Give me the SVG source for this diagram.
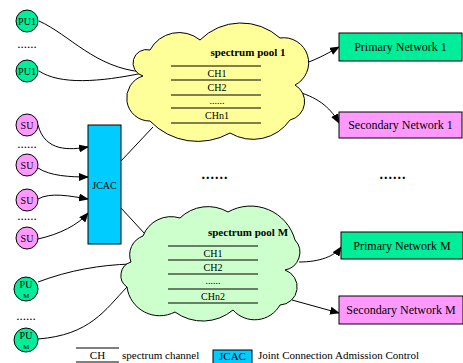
<svg xmlns="http://www.w3.org/2000/svg" width="463" height="363" viewBox="0 0 463 363" font-family="'Liberation Serif', Tinos, 'Times New Roman', 'DejaVu Serif', serif">
<defs>
<marker id="ah" markerWidth="10" markerHeight="8" refX="9" refY="4" orient="auto" markerUnits="userSpaceOnUse">
<path d="M0,0 L10,4 L0,8 Z" fill="#000"/>
</marker>
<style>
text{font-family:'Liberation Serif',Tinos,'Times New Roman','DejaVu Serif',serif;fill:#000;text-anchor:middle}
.pu{fill:#00EE99;stroke:#000;stroke-width:1}
.su{fill:#FF99FF;stroke:#000;stroke-width:1}
.box{stroke:#000;stroke-width:1}
.ln{fill:none;stroke:#000;stroke-width:1}
.ch{stroke:#000;stroke-width:1}
.t10{font-size:10px}
.t12{font-size:12px}
.t11{font-size:11px}
.b{font-weight:bold;font-size:11px}
.dots{font-size:13px}
</style>
</defs>

<g id="connectors">
<path class="ln" d="M39,21 C70,35 95,68 143,72"/>
<path class="ln" d="M39,71 C60,85 100,82 143,73"/>
<path class="ln" d="M38,125 C45,152 70,150 88,147" marker-end="url(#ah)"/>
<path class="ln" d="M38,168 C50,176 70,177 88,177" marker-end="url(#ah)"/>
<path class="ln" d="M38,199 C50,192 70,196 88,199" marker-end="url(#ah)"/>
<path class="ln" d="M38,239 C60,234 78,225 88,213" marker-end="url(#ah)"/>
<path class="ln" d="M121,161 L153,127"/>
<path class="ln" d="M121,208 L145,234"/>
<path class="ln" d="M38,282 C70,270 100,265 131,264"/>
<path class="ln" d="M38,339 C90,335 105,310 127,287"/>
<path class="ln" d="M306,63 C320,58 330,52 339,47" marker-end="url(#ah)"/>
<path class="ln" d="M298,92 C320,98 332,110 339,123" marker-end="url(#ah)"/>
<path class="ln" d="M299,262 C320,262 335,256 341,247" marker-end="url(#ah)"/>
<path class="ln" d="M292,300 L339,313" marker-end="url(#ah)"/>
</g>

<g id="pool1">
<path fill="#FFFF99" stroke="#000" stroke-width="1" d="M143,76 A13,13 0 0 1 150,50 A33,33 0 0 1 200,40 A58,58 0 0 1 280,38 A25,25 0 0 1 295,85 A19,19 0 0 1 290,120 A45,45 0 0 1 230,133 A66,66 0 0 1 150,121 A23,23 0 0 1 143,76 Z"/>
<text class="b" x="248" y="56">spectrum pool 1</text>
<line class="ch" x1="171" y1="66" x2="261" y2="66"/>
<line class="ch" x1="171" y1="80" x2="261" y2="80"/>
<line class="ch" x1="171" y1="95" x2="261" y2="95"/>
<line class="ch" x1="171" y1="108" x2="261" y2="108"/>
<line class="ch" x1="171" y1="123" x2="261" y2="123"/>
<text class="t10" x="217" y="77">CH1</text>
<text class="t10" x="217" y="91">CH2</text>
<text class="t10" x="217" y="104">......</text>
<text class="t10" x="217" y="119">CHn1</text>
</g>

<g id="poolM">
<path fill="#CCFFCC" stroke="#000" stroke-width="1" d="M143,236 A30,30 0 0 1 180,218 A40,40 0 0 1 228,212 A46,46 0 0 1 295,240 A18,18 0 0 1 285,270 A18,18 0 0 1 280,305 A29,29 0 0 1 233,310 A47,47 0 0 1 175,312 A33,33 0 0 1 127,287 A14,14 0 0 1 131,262 A20,20 0 0 1 143,236 Z"/>
<text class="b" x="248" y="236">spectrum pool M</text>
<line class="ch" x1="168" y1="246" x2="258" y2="246"/>
<line class="ch" x1="168" y1="260" x2="258" y2="260"/>
<line class="ch" x1="168" y1="274" x2="258" y2="274"/>
<line class="ch" x1="168" y1="289" x2="258" y2="289"/>
<line class="ch" x1="168" y1="303" x2="258" y2="303"/>
<text class="t10" x="213" y="257">CH1</text>
<text class="t10" x="213" y="271">CH2</text>
<text class="t10" x="213" y="284">......</text>
<text class="t10" x="213" y="300">CHn2</text>
</g>

<g id="pu1a"><circle class="pu" cx="27" cy="21" r="11"/><text class="t10" x="27" y="25">PU1</text></g>
<text class="dots" x="27" y="48">......</text>
<g id="pu1b"><circle class="pu" cx="27" cy="71" r="11"/><text class="t10" x="27" y="75">PU1</text></g>

<g id="su1"><circle class="su" cx="27" cy="125" r="11"/><text class="t10" x="27" y="129">SU</text></g>
<text class="dots" x="27" y="148">......</text>
<g id="su2"><circle class="su" cx="27" cy="165" r="11"/><text class="t10" x="27" y="169">SU</text></g>
<g id="su3"><circle class="su" cx="27" cy="200" r="11"/><text class="t10" x="27" y="204">SU</text></g>
<text class="dots" x="27" y="220">......</text>
<g id="su4"><circle class="su" cx="27" cy="238" r="11"/><text class="t10" x="27" y="242">SU</text></g>

<g id="jcac"><rect class="box" x="88" y="125" width="33" height="119" fill="#00CCFF"/><text class="t10" x="104.5" y="189">JCAC</text></g>

<g id="pum1"><circle class="pu" cx="26" cy="289" r="12"/><text class="t10" x="26" y="288">PU</text><text x="26" y="298" font-size="7">M</text></g>
<text class="dots" x="26" y="320">......</text>
<g id="pum2"><circle class="pu" cx="26" cy="340" r="12"/><text class="t10" x="26" y="339">PU</text><text x="26" y="349" font-size="7">M</text></g>

<g id="pn1"><rect class="box" x="339" y="33" width="123" height="28" fill="#00EE99"/><text class="t12" x="400.5" y="51">Primary Network 1</text></g>
<g id="sn1"><rect class="box" x="339" y="112" width="123" height="26" fill="#FF99FF"/><text class="t12" x="400.5" y="129">Secondary Network 1</text></g>
<g id="pnM"><rect class="box" x="341" y="232" width="122" height="27" fill="#00EE99"/><text class="t12" x="402" y="250">Primary Network M</text></g>
<g id="snM"><rect class="box" x="339" y="296" width="124" height="28" fill="#FF99FF"/><text class="t12" x="401" y="314">Secondary Network M</text></g>

<text x="215" y="179" font-size="14" font-weight="bold" letter-spacing="1">......</text>
<text x="393" y="179" font-size="14" font-weight="bold" letter-spacing="1">......</text>

<g id="legend">
<line class="ch" x1="76" y1="348" x2="119" y2="348"/>
<line class="ch" x1="76" y1="362" x2="119" y2="362"/>
<text class="t11" x="97.5" y="359">CH</text>
<text class="t11" x="122" y="359" style="text-anchor:start">spectrum channel</text>
<rect class="box" x="213" y="350" width="39" height="14" fill="#00CCFF"/>
<text class="t11" x="232.5" y="360">JCAC</text>
<text class="t11" x="258" y="359" style="text-anchor:start">Joint Connection Admission Control</text>
</g>
</svg>
